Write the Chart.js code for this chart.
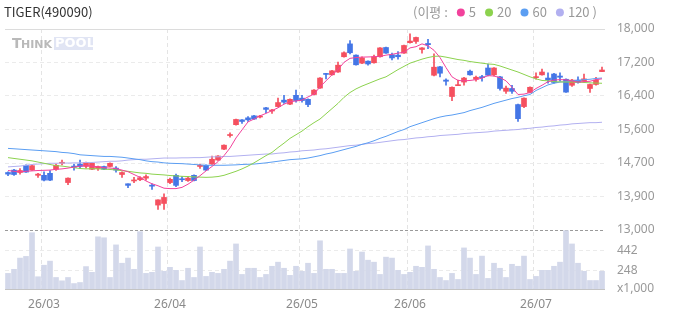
<!DOCTYPE html>
<html>
<head>
<meta charset="utf-8">
<script src="https://cdn.jsdelivr.net/npm/chart.js@4.4.1/dist/chart.umd.min.js"></script>
<style>
  html, body { margin: 0; padding: 0; background: #fff; }
  #wrap { width: 673px; height: 315px; }
</style>
</head>
<body>
<div id="wrap"><canvas id="chart"></canvas></div>
<script>
// --- data ---
const chartTitle = 'TIGER(490090)';
const monthLabels = ['26/03', '26/04', '26/05', '26/06', '26/07'];
const monthFirstIndex = [6, 27, 49, 67, 88];

const opens = [
  14430,14490,14430,14610,14490,14360,14360,14410,14510,14660,
  14180,14590,14640,14580,14510,14530,14580,14580,14540,14380,
  14150,14220,14250,14290,14100,13620,13660,14180,14360,14270,
  14230,14360,14580,14610,14640,14740,15010,15350,15620,15740,
  15790,15840,15810,16040,15960,16070,16230,16130,16350,16280,
  16250,16370,16530,16890,16860,16930,17310,17630,17350,17150,
  17200,17160,17310,17540,17360,17350,17400,17660,17690,17490,
  17640,16850,17060,16730,16320,16590,16680,16950,16750,16810,
  17030,16860,16810,16450,16520,16120,16070,16420,16790,16860,
  16780,16880,16830,16750,16600,16730,16700,16520,16620,16940
];
const highs = [
  14450,14510,14530,14620,14630,14410,14450,14480,14640,14740,
  14300,14640,14740,14690,14670,14590,14590,14670,14580,14450,
  14150,14310,14330,14370,14150,13750,13900,14290,14390,14330,
  14330,14370,14640,14620,14840,14850,15120,15420,15760,15745,
  15820,15850,15850,16050,16000,16280,16350,16260,16480,16350,
  16260,16490,16790,16900,16970,17180,17430,17710,17360,17310,
  17210,17350,17540,17550,17400,17440,17600,17880,17800,17535,
  17740,17380,17070,16760,16560,16730,16800,16980,16830,16850,
  17130,17040,16820,16580,16600,16130,16290,16560,16910,17000,
  16910,16900,16910,16760,16750,16810,16880,16630,16800,17050
];
const lows = [
  14350,14360,14390,14430,14480,14310,14220,14230,14480,14620,
  14130,14490,14530,14540,14500,14480,14500,14570,14440,14310,
  14050,14180,14230,14240,14010,13510,13510,14150,14080,14200,
  14210,14220,14530,14480,14630,14730,15000,15310,15610,15650,
  15700,15750,15790,15920,15900,16060,16150,16120,16180,16180,
  16070,16360,16520,16760,16850,16920,17300,17380,17100,17140,
  17100,17150,17300,17390,17230,17250,17390,17650,17640,17400,
  17510,16830,16810,16600,16220,16590,16600,16850,16700,16700,
  16830,16830,16480,16400,16400,15700,16040,16410,16750,16850,
  16650,16650,16700,16420,16570,16650,16680,16420,16600,16940
];
const closes = [
  14390,14380,14480,14440,14600,14390,14240,14240,14610,14680,
  14290,14560,14580,14680,14660,14580,14510,14660,14490,14430,
  14110,14240,14300,14330,14090,13750,13810,14260,14110,14250,
  14290,14230,14610,14490,14760,14840,15110,15370,15750,15700,
  15740,15760,15830,16000,15980,16170,16180,16250,16220,16220,
  16120,16480,16780,16870,16960,17100,17410,17410,17110,17280,
  17130,17310,17530,17400,17280,17310,17590,17700,17790,17530,
  17610,17050,16900,16700,16550,16610,16780,16860,16800,16790,
  16850,17030,16520,16530,16450,15770,16280,16550,16810,16930,
  16730,16670,16800,16430,16730,16670,16760,16620,16730,16980
];
// volume, thousands of shares
const volumes = [
  222,261,368,384,610,190,300,339,183,151,
  183,125,135,287,232,571,562,183,494,319,
  368,261,620,222,232,474,242,280,251,154,
  271,183,474,193,232,222,261,339,503,212,
  271,271,183,212,290,329,271,203,290,242,
  319,222,533,261,261,222,222,455,242,426,
  348,329,212,377,368,251,212,232,290,280,
  484,261,183,154,222,164,465,368,212,387,
  174,319,271,183,309,290,387,164,193,251,
  251,290,329,630,503,319,242,154,154,242
];
const ma5 = [
  14480,14460,14450,14460,14470,14480,14485,14490,14510,14520,
  14540,14565,14590,14605,14590,14570,14550,14540,14530,14490,
  14450,14380,14310,14220,14150,14100,14040,14030,14030,14060,
  14140,14240,14350,14470,14580,14700,14850,15040,15290,15490,
  15690,15760,15840,15900,15970,16040,16130,16190,16210,16230,
  16310,16380,16560,16710,16860,16990,17170,17270,17290,17300,
  17305,17310,17320,17350,17370,17400,17420,17530,17560,17630,
  17580,17470,17290,17040,16810,16720,16710,16720,16740,16780,
  16840,16830,16790,16710,16550,16370,16380,16420,16520,16600,
  16690,16730,16740,16735,16710,16680,16690,16700,16740,16760
];
const ma20 = [
  14800,14780,14760,14740,14720,14690,14660,14630,14600,14590,
  14570,14550,14530,14520,14525,14520,14515,14505,14495,14475,
  14460,14440,14420,14410,14390,14380,14370,14355,14345,14335,
  14330,14320,14315,14310,14315,14330,14360,14410,14460,14520,
  14590,14670,14760,14850,14930,15050,15160,15280,15370,15460,
  15570,15670,15760,15890,16020,16150,16300,16420,16510,16580,
  16640,16700,16760,16810,16900,16990,17070,17150,17200,17250,
  17290,17320,17325,17300,17270,17240,17220,17190,17170,17150,
  17130,17120,17080,17030,16980,16930,16870,16810,16760,16720,
  16710,16690,16685,16680,16680,16680,16670,16660,16655,16650
];
const ma60 = [
  15030,15020,15010,15000,14990,14980,14970,14960,14950,14930,
  14920,14900,14870,14860,14850,14840,14830,14830,14820,14810,
  14790,14770,14750,14720,14700,14690,14670,14660,14655,14650,
  14640,14630,14620,14610,14610,14610,14610,14615,14620,14630,
  14635,14640,14655,14670,14690,14710,14730,14750,14760,14770,
  14790,14820,14850,14890,14920,14960,15000,15040,15080,15130,
  15170,15220,15280,15330,15390,15450,15500,15570,15620,15670,
  15720,15770,15810,15840,15860,15890,15920,15970,16010,16050,
  16100,16150,16190,16230,16270,16300,16340,16370,16470,16540,
  16610,16650,16680,16690,16710,16720,16740,16750,16770,16780
];
const ma120 = [
  14570,14580,14590,14610,14630,14640,14650,14660,14660,14665,
  14665,14670,14670,14680,14680,14690,14700,14710,14710,14720,
  14740,14750,14760,14760,14770,14780,14790,14790,14790,14795,
  14795,14800,14800,14810,14820,14820,14830,14830,14840,14850,
  14860,14870,14880,14890,14890,14910,14920,14940,14950,14970,
  14980,14990,15010,15020,15040,15060,15080,15100,15110,15130,
  15150,15160,15180,15200,15220,15240,15250,15270,15290,15300,
  15320,15330,15350,15360,15370,15380,15400,15410,15420,15430,
  15440,15460,15470,15480,15490,15500,15520,15530,15550,15560,
  15580,15590,15610,15620,15640,15650,15660,15670,15670,15680
];

const priceMin = 13000, priceMax = 18000;
const priceTickLabels = ['13,000', '13,900', '14,700', '15,600', '16,400', '17,200', '18,000'];
const volMin = 73, volMax = 636;
const volTickValues = [73, 248, 442];
const volTickLabels = ['x1,000', '248', '442'];

const maNames = ['5', '20', '60', '120'];
const maColors = ['#f2429c', '#8cd24e', '#5b9ef2', '#b2b0f0'];
const upColor = '#f5505f';
const downColor = '#4476e6';
const volColor = '#d3d8ea';

// --- chart ---
const categories = closes.map((_, i) => {
  const k = monthFirstIndex.indexOf(i);
  return k >= 0 ? monthLabels[k] : '';
});
const candleColor = (ctx) => {
  const i = ctx.dataIndex;
  return closes[i] >= opens[i] ? upColor : downColor;
};

const tickFont = { family: '"Noto Sans", sans-serif', size: 12 };

const headerPlugin = {
  id: 'header',
  beforeDatasetsDraw(chart) {
    // THINKPOOL mark
    const ctx = chart.ctx;
    ctx.save();
    ctx.fillStyle = '#e1e5f4';
    ctx.fillRect(54, 37, 39, 13);
    ctx.textBaseline = 'middle';
    ctx.font = 'bold 14px "DejaVu Sans", sans-serif';
    ctx.fillStyle = '#b9b9b9';
    ctx.fillText('T', 12, 44);
    ctx.font = 'bold 11px "DejaVu Sans", sans-serif';
    ctx.fillText('HINK', 21, 45);
    ctx.font = 'bold 13px "DejaVu Sans", sans-serif';
    ctx.fillStyle = '#ffffff';
    ctx.fillText('POOL', 55, 44);
    ctx.restore();
  },
  afterDraw(chart) {
    const ctx = chart.ctx;
    ctx.save();
    ctx.textBaseline = 'middle';
    ctx.font = '13px "Noto Sans CJK KR", sans-serif';
    ctx.fillStyle = '#333';
    ctx.fillText(chartTitle, 4, 12);

    let x = 413;
    ctx.fillStyle = '#999';
    ctx.fillText('(이평 :', x, 12);
    x += ctx.measureText('(이평 :').width + 9;
    maNames.forEach((name, i) => {
      ctx.beginPath();
      ctx.fillStyle = maColors[i];
      ctx.arc(x + 4, 12.5, 4, 0, Math.PI * 2);
      ctx.fill();
      x += 12;
      ctx.fillStyle = '#999';
      ctx.fillText(name, x, 12);
      x += ctx.measureText(name).width + 9;
    });
    ctx.fillText(')', x - 6, 12);
    ctx.restore();
  }
};

new Chart(document.getElementById('chart'), {
  type: 'bar',
  data: {
    labels: categories,
    datasets: [
      ...[ma5, ma20, ma60, ma120].map((vals, i) => ({
        type: 'line',
        data: vals,
        yAxisID: 'yP',
        borderColor: maColors[i],
        borderWidth: 1,
        pointRadius: 0,
        tension: 0,
        order: 0
      })),
      {
        data: opens.map((o, i) => [o, closes[i]]),
        yAxisID: 'yP',
        backgroundColor: candleColor,
        barThickness: 5,
        minBarLength: 1,
        grouped: false,
        order: 1
      },
      {
        data: lows.map((l, i) => [l, highs[i]]),
        yAxisID: 'yP',
        backgroundColor: candleColor,
        barThickness: 1,
        grouped: false,
        order: 2
      },
      {
        data: volumes,
        yAxisID: 'yV',
        backgroundColor: volColor,
        barThickness: 5,
        grouped: false,
        order: 3
      }
    ]
  },
  options: {
    responsive: true,
    maintainAspectRatio: false,
    animation: false,
    events: [],
    layout: { padding: { left: 3, top: 29, right: 0, bottom: 0 } },
    plugins: { legend: { display: false }, tooltip: { enabled: false } },
    scales: {
      x: {
        offset: true,
        grid: {
          offset: true,
          drawTicks: false,
          color: (ctx) => (ctx.tick && ctx.tick.label ? '#e4e4e4' : 'rgba(0,0,0,0)')
        },
        border: { display: false, dash: [4, 3] },
        ticks: {
          autoSkip: false,
          maxRotation: 0,
          padding: 8,
          color: '#8a8a8a',
          font: tickFont
        },
        afterFit: (s) => { s.height = 26; }
      },
      yP: {
        position: 'right',
        stack: 'panes',
        stackWeight: 201,
        min: priceMin,
        max: priceMax,
        afterBuildTicks: (s) => {
          s.ticks = priceTickLabels.map((_, i) => ({
            value: priceMin + (priceMax - priceMin) * i / (priceTickLabels.length - 1)
          }));
        },
        ticks: {
          autoSkip: false,
          callback: (v, i) => priceTickLabels[i],
          padding: 12,
          color: '#999',
          font: tickFont
        },
        grid: {
          drawTicks: false,
          color: (ctx) => {
            if (!ctx.tick) return '#ebebeb';
            if (ctx.index === 0) return '#9a9a9a';
            if (ctx.index === priceTickLabels.length - 1) return '#dcdcdc';
            return '#ebebeb';
          }
        },
        border: {
          display: false,
          dash: (ctx) => (ctx.index === priceTickLabels.length - 1 ? [] : (ctx.index === 0 ? [3, 2] : [4, 3]))
        },
        afterFit: (s) => { s.width = 68; }
      },
      yV: {
        position: 'right',
        stack: 'panes',
        stackWeight: 59,
        min: volMin,
        max: volMax,
        afterBuildTicks: (s) => {
          s.ticks = volTickValues.map((v) => ({ value: v }));
        },
        ticks: {
          autoSkip: false,
          callback: (v, i) => volTickLabels[i],
          padding: 12,
          color: '#999',
          font: tickFont
        },
        grid: {
          drawTicks: false,
          color: (ctx) => (ctx.index === 0 ? '#c4c4c4' : '#ebebeb')
        },
        border: {
          display: false,
          dash: (ctx) => (ctx.index === 0 ? [] : [4, 3])
        },
        afterFit: (s) => { s.width = 68; }
      }
    }
  },
  plugins: [headerPlugin]
});
</script>
</body>
</html>
